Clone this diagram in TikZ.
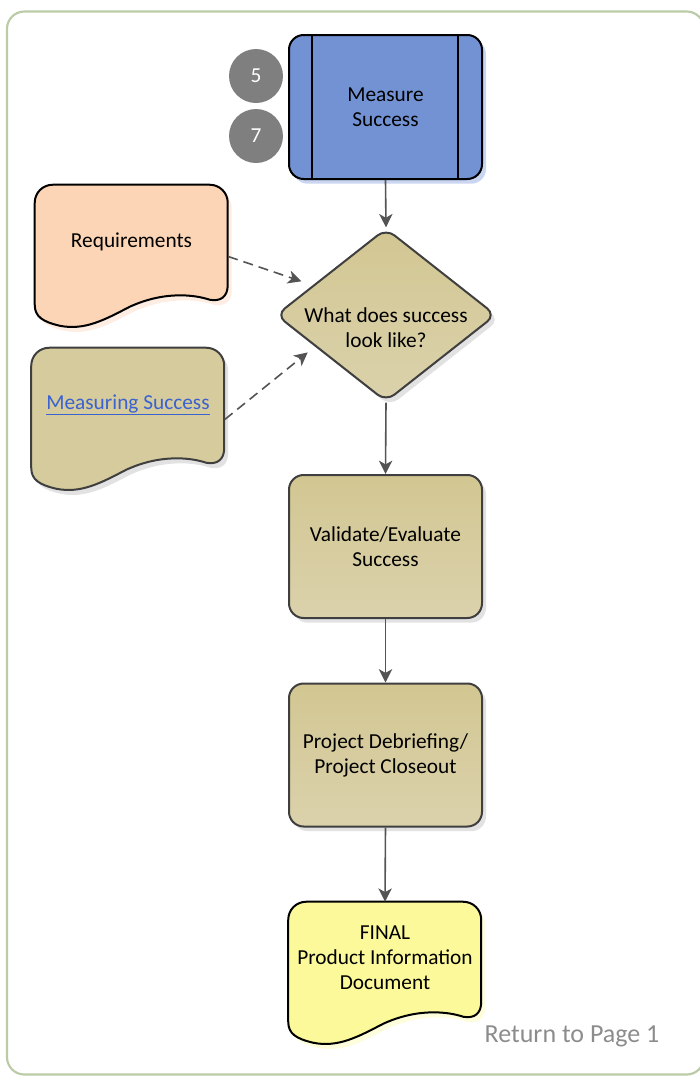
\documentclass[tikz,border=0pt]{standalone}
\usepackage{fontspec}
\setmainfont{Carlito}
\usetikzlibrary{arrows.meta,shapes.geometric,calc,shadows}
\definecolor{frame}{HTML}{BACBA6}
\definecolor{measblue}{HTML}{7392D3}
\definecolor{measshadow}{HTML}{C9D5F1}
\definecolor{khakiA}{HTML}{D2C692}
\definecolor{khakiB}{HTML}{DBD2AC}
\definecolor{khakishadow}{HTML}{E2E2E2}
\definecolor{peach}{HTML}{FBD5B5}
\definecolor{peachshadow}{HTML}{FDEDE2}
\definecolor{docyellow}{HTML}{FCF99B}
\definecolor{yellowshadow}{HTML}{FEFDDC}
\definecolor{numgray}{HTML}{7F7F7F}
\definecolor{arrowgray}{HTML}{545454}
\definecolor{boxline}{HTML}{3F3F3F}
\definecolor{linkblue}{HTML}{3A62D0}
\definecolor{retgray}{HTML}{8C8C8C}
\newcommand\docshape[4]{%
  \fill[#4,shift={($(#1)+(4,5)$)}] (0,18) .. controls (0,8) and (8,0) .. (18,0) -- (175,0) .. controls (185,0) and (193,8) .. (193,18) -- (193,100) .. controls (193,112) and (186,117) .. (175,115) .. controls (160,110) and (130,106) .. (95,122) .. controls (70,135) and (50,146) .. (25,141) .. controls (8,137) and (0,132) .. (0,120) -- cycle;
  \draw[#3,line width=1.5pt,fill=#2,shift={(#1)}] (0,18) .. controls (0,8) and (8,0) .. (18,0) -- (175,0) .. controls (185,0) and (193,8) .. (193,18) -- (193,100) .. controls (193,112) and (186,117) .. (175,115) .. controls (160,110) and (130,106) .. (95,122) .. controls (70,135) and (50,146) .. (25,141) .. controls (8,137) and (0,132) .. (0,120) -- cycle;}
\begin{document}
\begin{tikzpicture}[x=0.75pt,y=-0.75pt,
  every node/.style={font=\fontsize{16}{18.75}\selectfont},
  arr/.style={draw=arrowgray,line width=1.2pt,-{Stealth[length=10pt,width=10pt,inset=2.8pt]}},
  darr/.style={arr,dash pattern=on 7.5pt off 4.5pt},
  kbox/.style={rectangle,rounded corners=11pt,draw=boxline,line width=1.5pt,
    top color=khakiA,bottom color=khakiB,minimum width=144.75pt,minimum height=107.25pt,
    inner sep=0pt,align=center,
    drop shadow={shadow xshift=3pt,shadow yshift=-3.5pt,fill=khakishadow,opacity=1}},
  docanchor/.style={rectangle,draw=none,minimum width=144.75pt,minimum height=107.25pt,inner sep=0pt},
  num/.style={circle,fill=numgray,minimum size=40.5pt,inner sep=0pt,text=white},
  txt/.style={align=center,inner sep=0pt}]
\useasboundingbox (0,0) rectangle (700,1076);
% frame
\draw[frame,line width=1.6pt,rounded corners=13pt] (7,11.5) rectangle (704,1074.5);

% Measure Success
\node[rectangle,rounded corners=11pt,draw=black,line width=1.5pt,fill=measblue,
  minimum width=144.75pt,minimum height=108pt,inner sep=0pt,align=center,
  drop shadow={shadow xshift=3pt,shadow yshift=-3.5pt,fill=measshadow,opacity=1}]
  (meas) at (385.5,107) {Measure\\Success};
\draw[black,line width=1.3pt] ($(meas.north west)+(24,0)$) -- ($(meas.south west)+(24,0)$);
\draw[black,line width=1.3pt] ($(meas.north east)+(-25,0)$) -- ($(meas.south east)+(-25,0)$);
\node[num] (c5) at (256,76) {5};
\node[num] (c7) at (256,136) {7};

% decision
\node[diamond,draw=boxline,line width=1.5pt,rounded corners=8pt,top color=khakiA,bottom color=khakiB,
  minimum width=165pt,minimum height=130pt,inner sep=0pt,
  drop shadow={shadow xshift=3pt,shadow yshift=-3.5pt,fill=khakishadow,opacity=1}]
  (dia) at (386,315) {};
\node[txt] (diat) at (386,328) {What does success\\look like?};

% documents
\node[docanchor] (req) at (131.5,256.5) {};
\docshape{req.north west}{peach}{black}{peachshadow}
\node[txt] (reqt) at (131.5,242) {Requirements};

\node[docanchor] (ms) at (128,419.5) {};
\docshape{ms.north west}{khakiA!60!khakiB}{boxline}{khakishadow}
\node[txt,text=linkblue] (mst) at (128,405) {\underline{Measuring Success}};

% process boxes
\node[kbox] (val) at (385.5,546.5) {Validate/Evaluate\\Success};
\node[kbox] (proj) at (385.5,755) {Project Debriefing/\\Project Closeout};

% final doc
\node[docanchor] (fin) at (385,973.5) {};
\docshape{fin.north west}{docyellow}{black}{yellowshadow}
\node[txt] (fint) at (385,958) {FINAL\\Product Information\\Document};

% return
\node[inner sep=0pt,anchor=base,text=retgray,font=\fontsize{19.5}{22}\selectfont] (ret) at (572,1042) {Return to Page 1};

% connectors
\draw[arr] (meas.south) -- (dia.north);
\draw[arr] (dia.south) -- (val.north);
\draw[arr] (val.south) -- (proj.north);
\draw[arr] (proj.south) -- (fin.north);
\draw[darr,shorten >=9pt] (req.east) -- ($(dia.west)!0.34!(dia.north)$);
\draw[darr,shorten >=7pt] (ms.east) -- ($(dia.west)!0.36!(dia.south)$);
\end{tikzpicture}
\end{document}
